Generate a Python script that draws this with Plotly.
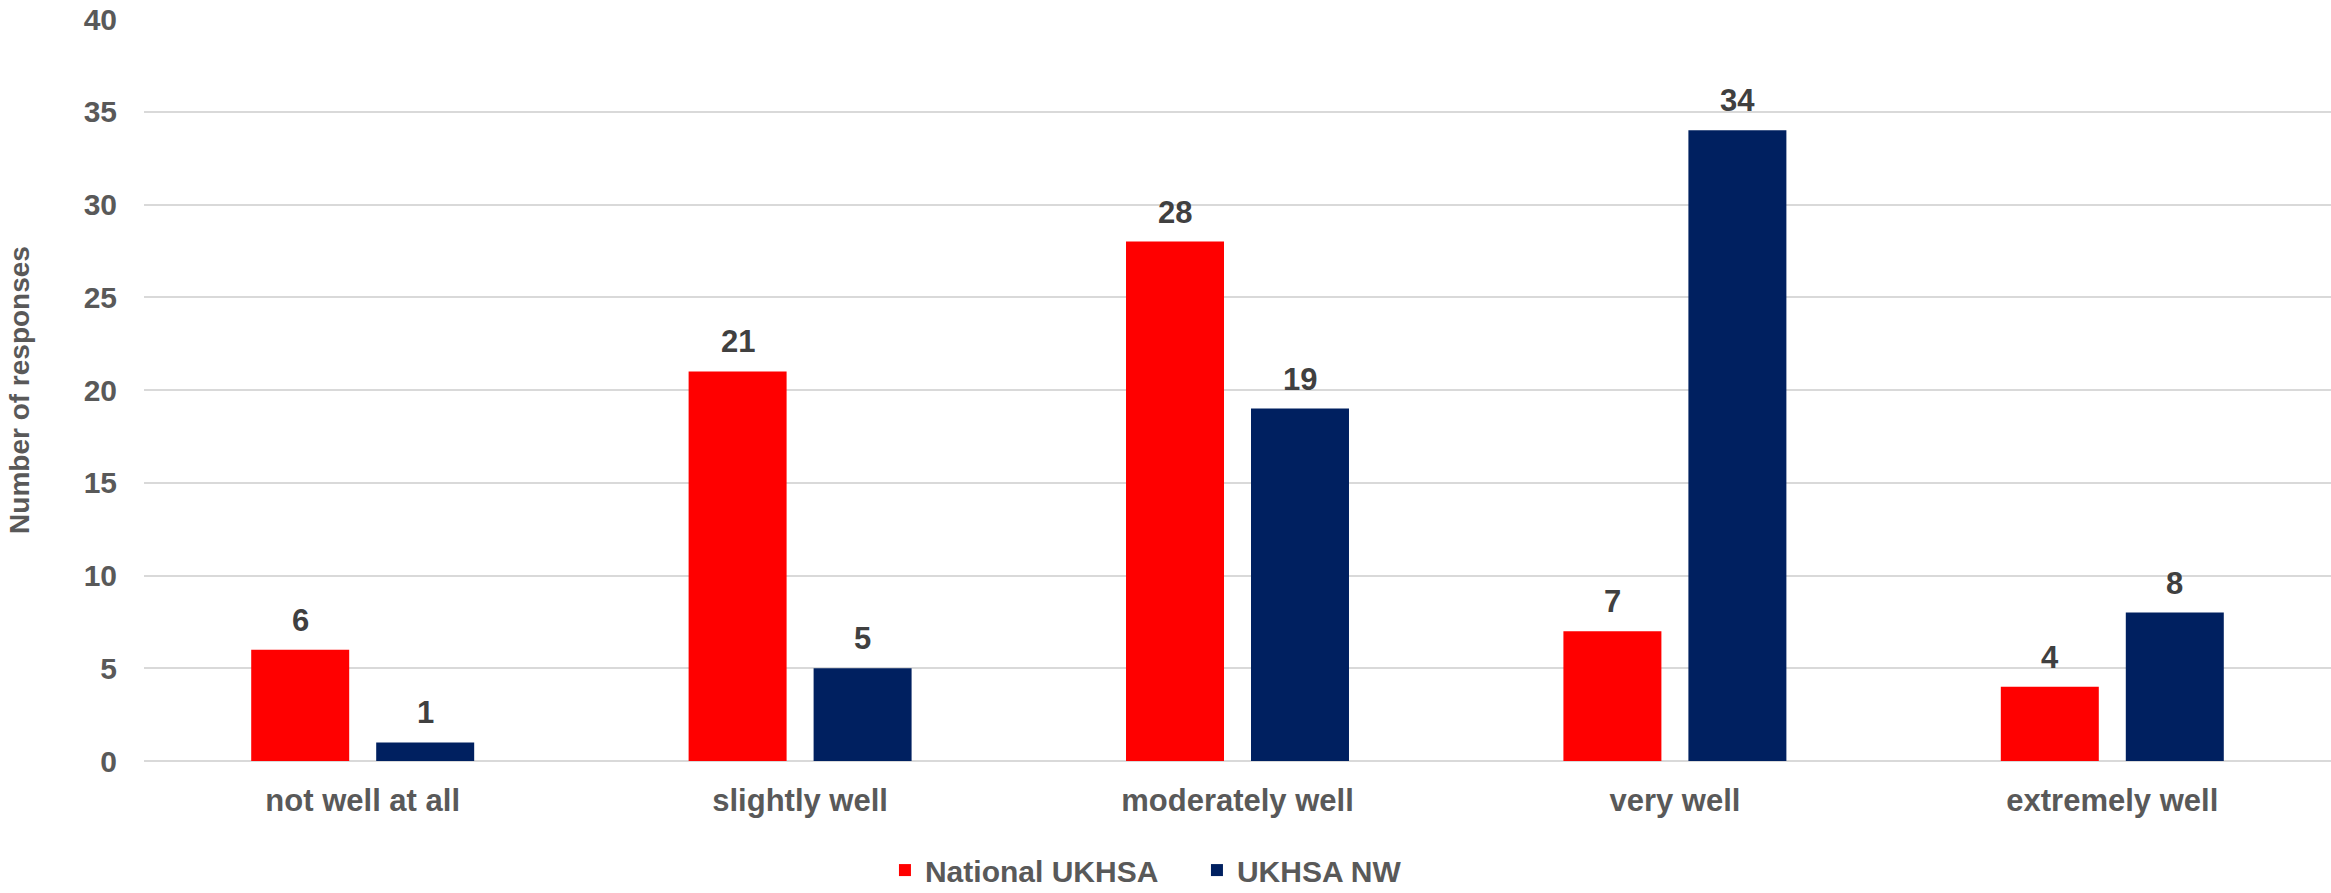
import plotly.graph_objects as go

categories = ["not well at all", "slightly well", "moderately well", "very well", "extremely well"]
national = [6, 21, 28, 7, 4]
nw = [1, 5, 19, 34, 8]
series_names = ["National UKHSA", "UKHSA NW"]
series_colors = ["#FF0000", "#002060"]
y_ticks = [0, 5, 10, 15, 20, 25, 30, 35, 40]

FONT = "Liberation Sans, Arial, sans-serif"

fig = go.Figure()
series = [national, nw]
offsets = [-62.5, 62.5]
for name, vals, col, off in zip(series_names, series, series_colors, offsets):
    fig.add_trace(go.Bar(
        x=categories, y=vals, name=name,
        marker=dict(color=col, line=dict(width=0)),
    ))
    for c, v in zip(categories, vals):
        fig.add_annotation(
            x=c, y=v, xref="x", yref="y", text=str(v), showarrow=False,
            xanchor="center", yanchor="bottom", xshift=off, yshift=10,
            font=dict(family=FONT, size=31, color="#404040", weight="bold"),
        )

fig.update_layout(
    width=2331, height=893,
    margin=dict(l=144, r=0, t=19, b=132, autoexpand=False),
    plot_bgcolor="white", paper_bgcolor="white",
    barmode="group", bargap=0.4285, bargroupgap=0.216,
    showlegend=True,
    legend=dict(
        orientation="h", x=0.3388, xanchor="left", y=-0.147, yanchor="middle",
        font=dict(family=FONT, size=30, color="#595959", weight="bold"),
        itemwidth=30, tracegroupgap=0, entrywidth=267, entrywidthmode="pixels",
    ),
    xaxis=dict(
        showgrid=False, showline=False, zeroline=False, automargin=False,
        tickfont=dict(family=FONT, size=31, color="#595959", weight="bold"),
        ticklabelstandoff=18,
    ),
    yaxis=dict(
        range=[0, 40], tickvals=y_ticks, automargin=False,
        showgrid=True, gridcolor="#D9D9D9", gridwidth=2,
        zeroline=True, zerolinecolor="#D9D9D9", zerolinewidth=2,
        showline=False,
        tickfont=dict(family=FONT, size=30, color="#595959", weight="bold"),
        ticklabelstandoff=26,
        title=dict(text="Number of responses", standoff=45,
                   font=dict(family=FONT, size=28, color="#595959", weight="bold")),
    ),
)

fig.write_html("out.html", config={"displayModeBar": False},
               post_script="document.body.style.margin='0';")
